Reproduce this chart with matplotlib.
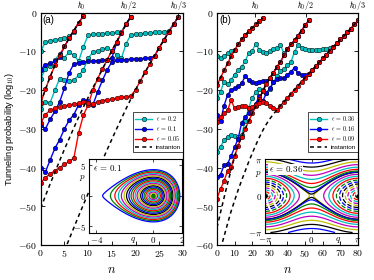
import numpy as np
import matplotlib
matplotlib.use('Agg')
import matplotlib.pyplot as plt
from matplotlib.ticker import FuncFormatter
from matplotlib.lines import Line2D

plt.rcParams['font.family'] = ['Liberation Sans', 'DejaVu Sans']
plt.rcParams['mathtext.fontset'] = 'cm'

# ---------------- panel (a) data, n = 0,1,2,... ----------------
a_eps = ['0.2', '0.1', '0.05']
a_hbar_pos = [8.6, 18.6, 29.0]

a_cyan_h1 = [-10.0, -7.6, -7.2, -7.0, -6.8, -6.6, -6.1, -4.9, -2.6, -0.9]
a_blue_h1 = [-14.7, -13.5, -13.0, -12.6, -11.5, -8.7, -6.6, -4.6, -2.6, -0.9]
a_red_h1 = [-23.3, -19.8, -16.5, -13.6, -11.0, -8.7, -6.6, -4.6, -2.6, -0.9]

a_cyan_h2 = [-17.0, -14.5, -13.8, -12.2, -10.6, -11.6, -10.2, -11.0, -12.5, -8.8,
             -5.8, -5.6, -5.5, -5.4, -5.3, -5.2, -5.1, -4.9, -2.9, -1.0]
a_blue_h2 = [-29.0, -30.0, -27.5, -25.5, -23.0, -19.5, -15.5, -13.2, -12.9, -12.7,
             -12.6, -12.5, -12.4, -12.3, -12.2, -11.7, -7.8, -5.2, -3.0, -1.0]
a_red_h2 = [-44.0, -42.6, -41.6, -40.8, -40.0, -39.2, -38.4, -37.5, -31.0, -26.5,
            -23.8, -20.0, -17.0, -14.6, -12.2, -9.8, -7.5, -5.2, -3.0, -1.0]

a_cyan_h3 = [-25.0, -23.0, -23.2, -20.0, -17.0, -17.4, -17.6, -17.4, -16.2, -14.8,
             -11.8, -10.2, -9.8, -9.5, -9.0, -9.8, -10.8, -11.8, -8.0, -5.7,
             -5.5, -5.4, -5.3, -5.2, -5.1, -5.0, -4.9, -4.6, -3.0, -1.1]
a_blue_h3 = [-40.2, -41.1, -38.0, -35.0, -32.8, -30.0, -27.8, -26.3, -23.8, -22.5,
             -22.8, -23.8, -20.5, -17.5, -14.8, -12.7, -12.3, -12.2, -12.1, -12.0,
             -11.9, -11.9, -11.8, -11.7, -11.2, -9.0, -7.0, -5.0, -3.0, -1.1]
a_red_h3 = [-28.5, -26.3, -25.2, -24.7, -24.4, -24.1, -23.8, -23.6, -23.4, -23.0,
            -23.2, -23.5, -23.0, -22.7, -22.5, -22.3, -22.1, -21.9, -21.7, -21.5,
            -19.9, -17.6, -15.4, -13.2, -11.1, -9.0, -7.0, -5.0, -3.0, -1.1]

a_inst_h1 = [-23.3, -19.8, -16.5, -13.6, -11.0, -8.7, -6.6, -4.6, -2.6, -0.9]
a_inst_h2 = [-50.5, -47.3, -44.2, -41.2, -38.2, -35.3, -32.5, -29.7, -27.0, -24.4,
             -21.9, -19.4, -17.0, -14.6, -12.2, -9.8, -7.5, -5.2, -3.0, -1.0]
a_inst_h3_n = list(range(5, 30))
a_inst_h3 = [-61.5, -58.5, -55.5, -52.5, -49.6, -46.7, -43.8, -41.0, -38.2, -35.4,
             -32.7, -30.0, -27.4, -24.8, -22.3, -19.9, -17.6, -15.4, -13.2, -11.1,
             -9.0, -7.0, -5.0, -3.0, -1.1]

# ---------------- panel (b) data, n = 0,2,4,... ----------------
b_eps = ['0.36', '0.16', '0.09']
b_hbar_pos = [21.8, 50.3, 80.0]

b_cyan_h1 = [-11.2, -11.7, -11.2, -10.5, -10.0, -9.6, -8.2, -6.9, -5.8, -4.8,
             -3.9, -3.0, -2.2, -1.4]
b_red_h1 = [-18.8, -16.8, -14.9, -13.1, -11.3, -9.6, -8.2, -6.9, -5.8, -4.8,
            -3.9, -3.0, -2.2, -1.4]

b_cyan_h2 = [-22.1, -20.4, -17.8, -18.5, -17.3, -16.0, -14.7, -14.0, -12.5, -10.4,
             -9.8, -8.0, -9.6, -10.2, -10.3, -10.0, -9.5, -9.2, -8.4, -10.5,
             -9.3, -8.2, -7.1, -5.9, -4.6, -3.3, -2.0]
b_blue_h2 = [-26.5, -28.0, -24.0, -21.2, -20.0, -19.5, -19.0, -18.2, -16.4, -17.3,
             -18.0, -18.2, -17.8, -17.6, -17.6, -16.9, -15.5, -14.0, -12.7, -11.0,
             -9.3, -8.2, -7.1, -5.9, -4.6, -3.3, -2.0]
b_red_h2 = [-48.0, -45.5, -43.5, -40.8, -39.9, -37.0, -34.3, -32.0, -30.0, -28.0,
            -26.0, -24.2, -22.2, -20.3, -18.3, -16.9, -15.5, -14.0, -12.7, -11.0,
            -9.3, -8.2, -7.1, -5.9, -4.6, -3.3, -2.0]

b_cyan_h3 = [-35.9, -34.6, -33.0, -32.0, -31.6, -31.9, -32.0, -31.6, -28.0, -24.5,
             -22.0, -20.5, -19.6, -20.0, -20.7, -19.8, -18.0, -16.3, -15.0, -14.6,
             -13.5, -12.7, -10.1, -8.3, -9.0, -9.5, -9.6, -9.6, -9.6, -9.6,
             -9.5, -9.4, -9.2, -8.8, -7.9, -6.9, -6.0, -5.0, -4.1, -3.0, -2.0]
b_blue_h3 = [-42.5, -41.8, -39.4, -39.0, -37.0, -34.8, -32.5, -28.5, -27.0, -25.8,
             -24.5, -23.5, -21.5, -22.8, -20.8, -19.5, -18.0, -17.2, -16.8, -16.8,
             -16.0, -15.2, -14.2, -15.7, -16.0, -16.1, -15.8, -14.8, -13.8, -12.8,
             -11.8, -10.8, -9.8, -8.8, -7.9, -6.9, -6.0, -5.0, -4.1, -3.0, -2.0]
b_red_h3 = [-28.2, -27.0, -26.0, -25.2, -22.6, -24.7, -24.3, -24.0, -24.2, -24.5,
            -24.3, -23.8, -23.4, -23.0, -23.3, -24.0, -24.5, -25.1, -24.0, -23.0,
            -22.0, -20.9, -19.9, -18.9, -17.8, -16.8, -15.8, -14.8, -13.8, -12.8,
            -11.8, -10.8, -9.8, -8.8, -7.9, -6.9, -6.0, -5.0, -4.1, -3.0, -2.0]

b_inst_h1 = [-18.8, -16.8, -14.9, -13.1, -11.3, -9.6, -8.2, -6.9, -5.8, -4.8,
             -3.9, -3.0, -2.2, -1.4]
b_inst_h2 = [-55.5, -51.6, -47.8, -44.1, -40.6, -37.2, -34.2, -32.0, -30.0, -28.0,
             -26.0, -24.2, -22.2, -20.3, -18.3, -16.9, -15.5, -14.0, -12.7, -11.0,
             -9.3, -8.2, -7.1, -5.9, -4.6, -3.3, -2.0]
b_inst_h3_n = list(range(2, 82, 2))
b_inst_h3 = [-61.0, -57.8, -54.5, -51.3, -48.5, -45.8, -43.3, -40.9, -38.5, -36.3,
             -34.2, -32.2, -30.4, -28.8, -27.4, -26.2, -25.1, -24.0, -23.0, -22.0,
             -20.9, -19.9, -18.9, -17.8, -16.8, -15.8, -14.8, -13.8, -12.8, -11.8,
             -10.8, -9.8, -8.8, -7.9, -6.9, -6.0, -5.0, -4.1, -3.0, -2.0]

# inset phase-space orbits (fractions of the separatrix energy / pendulum energies)
inset_a_qs = -3.7
inset_a_levels = [0.0023, 0.0091, 0.0204, 0.0363, 0.0567, 0.0816, 0.1111, 0.1451,
                  0.1837, 0.2268, 0.2744, 0.3265, 0.3832, 0.4444, 0.5102, 0.5805,
                  0.6553, 0.7347, 0.8186, 0.9070, 0.995]
inset_b_levels = [-0.986, -0.944, -0.875, -0.778, -0.653, -0.5, -0.319, -0.111,
                  0.125, 0.389, 0.681, 0.99, 1.01, 1.061, 1.245, 1.551, 1.98,
                  2.531, 3.205, 4.001, 4.92]

CYAN = (0.0, 0.75, 0.75)
BLUE = (0.0, 0.0, 1.0)
RED = (1.0, 0.0, 0.0)
CYCLE = ['b', 'g', 'r', 'c', 'm', 'y', 'k']

tick_fmt = FuncFormatter(lambda v, pos: '$%g$' % v)


def curve(ax, n, y, color):
    ax.plot(n, y, '-o', color=color, lw=1.0, ms=3.3, mec='k', mew=0.35)


def instanton(ax, n, y):
    ax.plot(n, y, color='k', lw=1.1, ls=(0, (2.6, 2.2)))


def setup_main(ax, xmax, xstep, hbar_pos, letter):
    ax.set_xlim(0, xmax)
    ax.set_ylim(-60, 0)
    ax.set_xticks(np.arange(0, xmax + 1, xstep))
    ax.set_yticks(np.arange(-60, 1, 10))
    ax.xaxis.set_major_formatter(tick_fmt)
    ax.yaxis.set_major_formatter(tick_fmt)
    ax.tick_params(direction='in', length=3, width=0.6, labelsize=7,
                   top=False, right=True, pad=2.5)
    for s in ax.spines.values():
        s.set_linewidth(0.8)
    ax.set_xlabel('$n$', fontsize=9, labelpad=3)
    top = ax.twiny()
    top.set_xlim(0, xmax)
    top.set_xticks(hbar_pos)
    top.set_xticklabels([r'$\hbar_0$', r'$\hbar_0/2$', r'$\hbar_0/3$'])
    top.tick_params(direction='in', length=3, width=0.6, labelsize=5.8, pad=0.8)
    ax.text(0.015, 0.988, letter, transform=ax.transAxes, ha='left', va='top',
            fontsize=7)


def legend(ax, eps):
    handles = [Line2D([], [], color=c, marker='o', lw=1.0, ms=3.3, mec='k', mew=0.35)
               for c in (CYAN, BLUE, RED)]
    handles.append(Line2D([], [], color='k', lw=1.1, ls=(0, (2.6, 2.2))))
    labels = [r'$\epsilon\,=\,%s$' % e for e in eps] + ['instanton']
    leg = ax.legend(handles, labels, loc='upper right', bbox_to_anchor=(1.0, 0.572),
                    fontsize=4.5, numpoints=1, handlelength=2.8, handletextpad=0.6,
                    labelspacing=0.2, borderpad=0.28, borderaxespad=0.0,
                    fancybox=False, framealpha=1.0, edgecolor='k')
    leg.get_frame().set_linewidth(0.5)
    leg.set_zorder(20)


def inset_ticks(ins):
    ins.tick_params(direction='in', length=2, width=0.5, labelsize=6.5, pad=2,
                    top=True, right=True)
    for s in ins.spines.values():
        s.set_linewidth(0.8)


fig = plt.figure(figsize=(3.74, 2.80), dpi=100)
ax_a = fig.add_axes([0.1088, 0.125, 0.3805, 0.8296])
ax_b = fig.add_axes([0.5802, 0.125, 0.3770, 0.8296])

# ---- panel (a)
for ys in (a_cyan_h1, a_cyan_h2, a_cyan_h3):
    curve(ax_a, np.arange(len(ys)), ys, CYAN)
for ys in (a_blue_h1, a_blue_h2, a_blue_h3):
    curve(ax_a, np.arange(len(ys)), ys, BLUE)
for ys in (a_red_h1, a_red_h2, a_red_h3):
    curve(ax_a, np.arange(len(ys)), ys, RED)
instanton(ax_a, np.arange(len(a_inst_h1)), a_inst_h1)
instanton(ax_a, np.arange(len(a_inst_h2)), a_inst_h2)
instanton(ax_a, a_inst_h3_n, a_inst_h3)
setup_main(ax_a, 30, 5, a_hbar_pos, '(a)')
ax_a.set_ylabel(r'Tunneling probability (log$_{10}$)', fontsize=6.6, labelpad=2)
legend(ax_a, a_eps)

# ---- panel (b)
for ys in (b_cyan_h1, b_cyan_h2, b_cyan_h3):
    curve(ax_b, np.arange(0, 2 * len(ys), 2), ys, CYAN)
for ys in (b_blue_h2, b_blue_h3):
    curve(ax_b, np.arange(0, 2 * len(ys), 2), ys, BLUE)
for ys in (b_red_h1, b_red_h2, b_red_h3):
    curve(ax_b, np.arange(0, 2 * len(ys), 2), ys, RED)
instanton(ax_b, np.arange(0, 2 * len(b_inst_h1), 2), b_inst_h1)
instanton(ax_b, np.arange(0, 2 * len(b_inst_h2), 2), b_inst_h2)
instanton(ax_b, b_inst_h3_n, b_inst_h3)
setup_main(ax_b, 80, 10, b_hbar_pos, '(b)')
legend(ax_b, b_eps)

# ---- inset (a): cubic well
ins_a = fig.add_axes([0.238, 0.1696, 0.2487, 0.2625])
q = np.linspace(-4.5, 2.0, 600)
p = np.linspace(-6.0, 6.0, 600)
Q, P = np.meshgrid(q, p)
H = P ** 2 / 8.0 + Q ** 2 / 2.0 - Q ** 3 / (3.0 * inset_a_qs)
H[Q < inset_a_qs] = np.nan
e_sep = inset_a_qs ** 2 / 6.0
nl = len(inset_a_levels)
for i, f in enumerate(inset_a_levels):
    ins_a.contour(Q, P, H, levels=[f * e_sep], colors=[CYCLE[(nl - 1 - i) % 7]],
                  linewidths=0.9)
ins_a.plot([0], [0], 'o', color='g', ms=2.2, mec='g')
ins_a.set_xlim(-4.5, 2.0)
ins_a.set_ylim(-6.0, 6.0)
ins_a.set_xticks([-4, 0, 2])
ins_a.set_yticks([-5, 0, 5])
ins_a.xaxis.set_major_formatter(tick_fmt)
ins_a.yaxis.set_major_formatter(tick_fmt)
inset_ticks(ins_a)
ins_a.text(-1.4, -0.035, '$q$', transform=ins_a.get_xaxis_transform(),
           ha='center', va='top', fontsize=6.5)
ins_a.text(-0.035, 2.85, '$p$', transform=ins_a.get_yaxis_transform(),
           ha='right', va='center', fontsize=6.5)
ins_a.text(0.04, 0.95, r'$\epsilon\,=\,0.1$', transform=ins_a.transAxes,
           ha='left', va='top', fontsize=6.5)

# ---- inset (b): pendulum-like
ins_b = fig.add_axes([0.7086, 0.1696, 0.2487, 0.2625])
q = np.linspace(-np.pi, np.pi, 600)
p = np.linspace(-np.pi, np.pi, 600)
Q, P = np.meshgrid(q, p)
H = P ** 2 / 2.0 + np.cos(Q)
for i, e in enumerate(inset_b_levels):
    ins_b.contour(Q, P, H, levels=[e], colors=[CYCLE[(i + 1) % 7]], linewidths=0.9)
ins_b.plot([-np.pi, np.pi], [0, 0], 'o', color='k', ms=2.2)
ins_b.set_xlim(-np.pi, np.pi)
ins_b.set_ylim(-np.pi, np.pi)
ins_b.set_xticks([-np.pi, 0, np.pi])
ins_b.set_xticklabels([r'$-\pi$', '$0$', r'$\pi$'])
ins_b.set_yticks([-np.pi, 0, np.pi])
ins_b.set_yticklabels([r'$-\pi$', '$0$', r'$\pi$'])
inset_ticks(ins_b)
ins_b.text(1.8, -0.035, '$q$', transform=ins_b.get_xaxis_transform(),
           ha='center', va='top', fontsize=6.5)
ins_b.text(-0.035, 1.9, '$p$', transform=ins_b.get_yaxis_transform(),
           ha='right', va='center', fontsize=6.5)
ins_b.text(0.04, 0.93, r'$\epsilon\,=\,0.36$', transform=ins_b.transAxes,
           ha='left', va='top', fontsize=6.5,
           bbox=dict(facecolor='white', edgecolor='none', pad=0.3))

fig.savefig('out.png', dpi=100)
